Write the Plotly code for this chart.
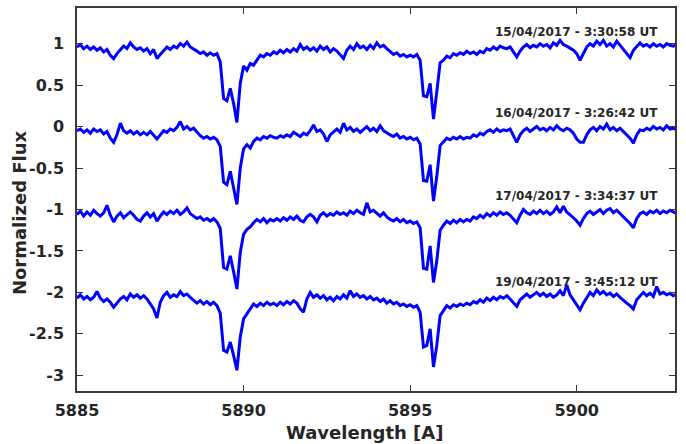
import numpy as np
import plotly.graph_objects as go

# Wavelength sampling grid [A]
wl_start = 5885.0
wl_step = 0.1
n_pts = 181
wavelength = np.round(wl_start + wl_step * np.arange(n_pts), 2)

# Normalized flux of each spectrum (0.1 A sampling)
flux_15apr = [
    0.96, 0.99, 0.94, 0.97, 0.93, 0.96, 0.92, 0.95, 0.90, 0.93,
    0.86, 0.82, 0.88, 0.93, 0.97, 0.94, 1.01, 0.96, 0.93, 0.95,
    0.91, 0.94, 0.88, 0.93, 0.82, 0.87, 0.92, 0.96, 0.93, 0.97,
    0.95, 1.00, 0.97, 1.02, 0.96, 0.94, 0.91, 0.88, 0.90, 0.86,
    0.89, 0.86, 0.88, 0.78, 0.34, 0.31, 0.46, 0.28, 0.05, 0.52,
    0.73, 0.68, 0.76, 0.74, 0.80, 0.86, 0.84, 0.88, 0.86, 0.90,
    0.88, 0.92, 0.89, 0.93, 0.90, 0.94, 0.91, 0.99, 0.93, 0.96,
    0.92, 0.95, 0.91, 0.97, 0.93, 0.96, 0.90, 0.94, 0.91, 0.86,
    0.82, 0.92, 0.97, 0.93, 1.00, 0.95, 0.97, 0.93, 0.98, 0.94,
    1.01, 0.96, 0.98, 0.94, 0.90, 0.87, 0.89, 0.85, 0.87, 0.84,
    0.86, 0.84, 0.87, 0.80, 0.37, 0.36, 0.52, 0.09, 0.42, 0.77,
    0.80, 0.85, 0.83, 0.88, 0.86, 0.89, 0.87, 0.91, 0.88, 0.90,
    0.87, 0.91, 0.89, 0.94, 0.92, 0.96, 0.93, 0.97, 0.95, 0.94,
    0.96, 0.90, 0.84, 0.91, 0.96, 0.99, 0.95, 0.98, 0.96, 1.00,
    0.97, 0.99, 0.95, 1.01, 0.98, 1.04, 0.99, 0.97, 0.95, 0.92,
    0.88, 0.80, 0.88, 0.96, 1.00, 0.97, 1.03, 0.99, 1.04, 0.97,
    1.00, 0.96, 1.03, 0.98, 0.93, 0.89, 0.83, 0.92, 0.97, 1.01,
    0.97, 0.99, 0.96, 1.00, 0.97, 0.99, 0.96, 1.00, 0.98, 0.97, 0.99,
]
flux_16apr = [
    0.95, 0.97, 0.93, 0.96, 0.92, 0.97, 0.94, 0.96, 0.91, 0.94,
    0.86, 0.81, 0.90, 1.04, 0.95, 0.92, 0.95, 0.91, 0.94, 0.90,
    0.93, 0.90, 0.94, 0.89, 0.85, 0.90, 0.95, 0.93, 0.97, 0.95,
    0.99, 1.06, 0.97, 1.00, 0.96, 0.98, 0.93, 0.89, 0.86, 0.88,
    0.85, 0.87, 0.84, 0.76, 0.33, 0.30, 0.46, 0.27, 0.06, 0.50,
    0.73, 0.78, 0.74, 0.82, 0.86, 0.84, 0.88, 0.86, 0.89, 0.87,
    0.86, 0.89, 0.87, 0.90, 0.88, 0.93, 0.91, 0.88, 0.92, 0.90,
    0.95, 1.02, 0.94, 0.96, 0.91, 0.82, 0.90, 0.94, 0.97, 0.93,
    1.04, 0.96, 0.99, 0.94, 0.97, 0.93, 0.96, 1.00, 0.95, 0.98,
    0.94, 1.01, 0.95, 0.92, 0.90, 0.88, 0.91, 0.86, 0.88, 0.85,
    0.87, 0.84, 0.86, 0.79, 0.35, 0.34, 0.54, 0.10, 0.40, 0.77,
    0.82, 0.86, 0.84, 0.87, 0.85, 0.88, 0.85, 0.87, 0.86, 0.90,
    0.88, 0.92, 0.90, 0.94, 0.96, 0.93, 0.97, 0.94, 0.96, 0.95,
    0.97, 0.88, 0.81, 0.90, 0.95, 0.98, 0.94, 0.97, 1.00, 0.96,
    0.98, 0.95, 0.99, 0.96, 1.01, 0.97, 0.95, 0.98, 0.96, 0.92,
    0.85, 0.81, 0.81, 0.90, 0.96, 0.99, 0.95, 1.00, 0.97, 1.03,
    0.96, 0.99, 0.95, 0.98, 0.94, 0.90, 0.86, 0.80, 0.90, 0.96,
    0.95, 0.98, 0.96, 1.00, 0.97, 0.99, 0.96, 1.01, 0.97, 0.98, 0.96,
]
flux_17apr = [
    0.94, 0.98, 0.92, 0.97, 0.93, 0.99, 0.95, 0.92, 0.96, 1.05,
    0.93, 0.85, 0.92, 0.96, 0.90, 0.94, 0.97, 0.93, 0.88, 0.86,
    0.92, 0.96, 0.91, 0.95, 0.86, 0.92, 0.97, 0.94, 0.98, 0.95,
    0.99, 0.94, 0.97, 1.02, 0.95, 0.92, 0.89, 0.91, 0.87, 0.89,
    0.86, 0.89, 0.85, 0.77, 0.30, 0.28, 0.44, 0.25, 0.04, 0.48,
    0.70, 0.76, 0.79, 0.84, 0.88, 0.85, 0.89, 0.84, 0.88, 0.86,
    0.89, 0.86, 0.90, 0.87, 0.91, 0.88, 0.92, 0.87, 0.85, 0.91,
    0.94, 0.91, 0.85, 0.93, 0.96, 0.92, 0.95, 0.93, 0.97, 0.94,
    0.96, 0.93, 0.98, 0.95, 0.99, 0.96, 0.94, 1.08, 0.97, 0.99,
    0.95, 0.92, 0.96, 0.91, 0.88, 0.86, 0.89, 0.85, 0.88, 0.84,
    0.86, 0.83, 0.85, 0.78, 0.29, 0.28, 0.56, 0.12, 0.38, 0.75,
    0.81, 0.86, 0.83, 0.87, 0.84, 0.88, 0.85, 0.88, 0.86, 0.91,
    0.89, 0.93, 0.90, 0.95, 0.92, 0.96, 0.93, 0.97, 0.94, 0.96,
    0.93, 0.89, 0.84, 0.93, 1.00, 0.96, 0.94, 0.98, 0.95, 0.99,
    0.95, 0.98, 0.94, 0.97, 1.03, 0.96, 1.04, 0.97, 0.94, 0.90,
    0.86, 0.81, 0.89, 0.95, 0.98, 0.94, 0.97, 1.00, 0.95, 0.99,
    1.01, 0.96, 0.99, 0.95, 0.92, 0.88, 0.83, 0.78, 0.89, 0.95,
    0.97, 0.94, 0.98, 0.96, 0.99, 0.95, 0.98, 0.96, 0.99, 0.97, 0.95,
]
flux_19apr = [
    0.93, 0.97, 0.92, 0.95, 0.91, 0.94, 1.01, 0.93, 0.89, 0.92,
    0.88, 0.82, 0.87, 0.92, 0.95, 0.91, 0.98, 0.94, 0.97, 0.93,
    0.96, 0.92, 0.86, 0.80, 0.69, 0.88, 0.96, 1.00, 0.94, 0.97,
    0.95, 1.01, 0.96, 0.98, 0.94, 0.91, 0.87, 0.90, 0.86, 0.89,
    0.85, 0.88, 0.84, 0.75, 0.30, 0.28, 0.40, 0.24, 0.06, 0.46,
    0.68, 0.74, 0.80, 0.86, 0.83, 0.87, 0.84, 0.88, 0.85, 0.87,
    0.84, 0.88, 0.85, 0.89, 0.86, 0.90, 0.87, 0.80, 0.76, 0.92,
    1.00, 0.94, 0.97, 0.93, 0.96, 0.91, 0.94, 0.90, 0.95, 0.92,
    0.97, 0.93, 1.02, 0.95, 0.98, 0.94, 0.96, 0.92, 0.95, 0.91,
    0.93, 0.89, 0.92, 0.87, 0.90, 0.86, 0.88, 0.84, 0.86, 0.83,
    0.85, 0.82, 0.84, 0.76, 0.34, 0.36, 0.56, 0.10, 0.36, 0.72,
    0.78, 0.84, 0.81, 0.85, 0.83, 0.86, 0.84, 0.87, 0.85, 0.89,
    0.87, 0.91, 0.88, 0.93, 0.90, 0.94, 0.91, 0.95, 0.93, 0.96,
    0.92, 0.87, 0.83, 0.91, 0.95, 0.98, 0.94, 0.97, 1.00, 0.96,
    0.99, 0.95, 0.98, 0.94, 0.97, 1.02, 0.96, 1.09, 0.97, 0.91,
    0.85, 0.79, 0.87, 0.94, 1.00, 0.96, 1.03, 0.98, 1.01, 0.97,
    0.99, 0.95, 0.98, 0.94, 0.90, 0.87, 0.84, 0.80, 0.91, 0.96,
    1.00, 0.96, 0.99, 0.95, 1.07, 0.98, 1.00, 0.97, 0.99, 0.96, 0.98,
]

spectra = [flux_15apr, flux_16apr, flux_17apr, flux_19apr]
offsets = [0, 1, 2, 3]
labels = ["15/04/2017 - 3:30:58 UT", "16/04/2017 - 3:26:42 UT",
          "17/04/2017 - 3:34:37 UT", "19/04/2017 - 3:45:12 UT"]
label_x = 5900.0
label_y = [1.14, 0.16, -0.84, -1.88]

y_ticks = [1, 0.5, 0, -0.5, -1, -1.5, -2, -2.5, -3]
y_ticktext = ["1", "0.5", "0", "-0.5", "-1", "-1.5", "-2", "-2.5", "-3"]
x_ticks = [5885, 5890, 5895, 5900]

FONT = "DejaVu Sans"
TXT = "#262626"

fig = go.Figure()
for flux, off in zip(spectra, offsets):
    fig.add_trace(go.Scatter(
        x=wavelength, y=np.array(flux) - off, mode="lines",
        line=dict(color="#0000ff", width=3), showlegend=False,
        hoverinfo="skip"))

for lab, ly in zip(labels, label_y):
    fig.add_annotation(x=label_x, y=ly, xref="x", yref="y", text="<b>" + lab + "</b>",
                       showarrow=False, font=dict(family=FONT, size=12, color=TXT))

# Axis titles
fig.add_annotation(x=0.48, y=-0.1375, xref="paper", yref="paper", yanchor="bottom",
                   text="<b>Wavelength [A]</b>", showarrow=False, borderpad=0,
                   font=dict(family=FONT, size=18, color=TXT))
fig.add_annotation(x=-0.095, y=0.465, xref="paper", yref="paper", xanchor="center",
                   text="<b>Normalized Flux</b>", textangle=-90, showarrow=False,
                   font=dict(family=FONT, size=18, color=TXT))

axis_common = dict(showline=True, linecolor="#3a3a3a", linewidth=1.5, mirror="ticks",
                   ticks="inside", ticklen=6, tickwidth=1.2, tickcolor="#3a3a3a",
                   showgrid=False, zeroline=False,
                   tickfont=dict(family=FONT, size=16, color=TXT, weight="bold"))

fig.update_layout(
    width=686, height=444,
    margin=dict(l=77, r=11, t=6, b=53),
    plot_bgcolor="white", paper_bgcolor="white",
    xaxis=dict(range=[5885, 5902.95], tickvals=x_ticks, ticklabelstandoff=4,
               **axis_common),
    yaxis=dict(range=[-3.19, 1.43], tickvals=y_ticks, ticktext=y_ticktext,
               ticklabelstandoff=8, **axis_common),
)

fig.write_html("out.html")
